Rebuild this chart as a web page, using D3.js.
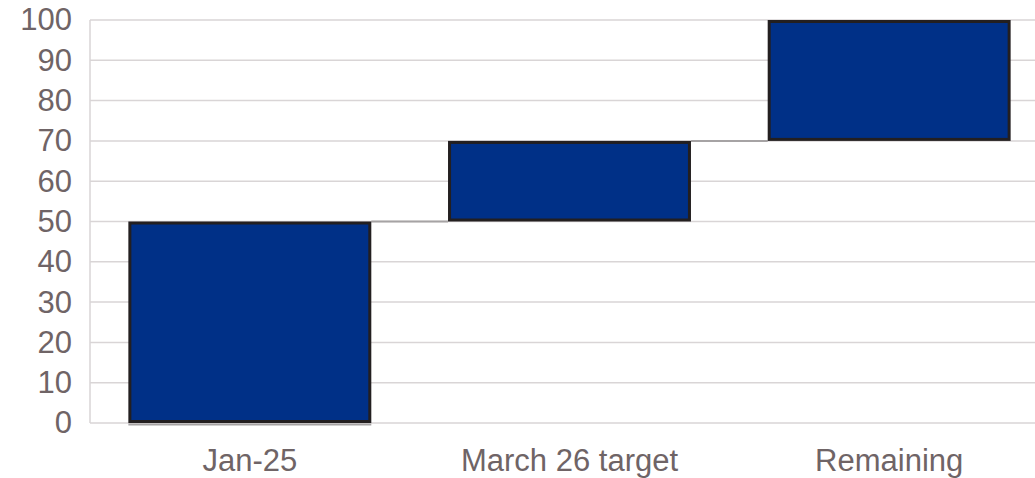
<!DOCTYPE html>
<html><head><meta charset="utf-8">
<script src="https://cdn.jsdelivr.net/npm/d3@7"></script>
<style>body{margin:0;background:#fff}svg{display:block}text{font-family:"Liberation Sans",Arial,sans-serif}</style>
</head><body><svg id="c" width="1035" height="478"></svg>
<script>
const categories = ["Jan-25", "March 26 target", "Remaining"];
const deltas = [50, 20, 30];
const yTicks = [0,10,20,30,40,50,60,70,80,90,100];

const svg = d3.select("#c");
const x = d3.scaleBand().domain(categories).range([90, 1049]).paddingInner(0.24).paddingOuter(0.12);
const y = d3.scaleLinear().domain([0, 100]).range([423, 20]);

let acc = 0;
const bars = categories.map((c, i) => { const s = acc; acc += deltas[i]; return {c, s, e: acc}; });

// gridlines
svg.append("g").selectAll("line").data(yTicks).join("line")
  .attr("x1", 90).attr("x2", 1035).attr("y1", d => y(d)).attr("y2", d => y(d))
  .attr("stroke", "#d9d5d6").attr("stroke-width", 1.5);
svg.append("line").attr("x1", 90).attr("x2", 90).attr("y1", y(100)).attr("y2", y(0))
  .attr("stroke", "#d9d5d6").attr("stroke-width", 1.5);

// y labels
const yAxis = d3.axisLeft(y).tickValues(yTicks).tickSize(0).tickPadding(18);
const ga = svg.append("g").attr("transform", "translate(90,0)").call(yAxis);
ga.select(".domain").remove();
ga.selectAll("text").attr("font-size", 31).attr("fill", "#6f6466").attr("font-family", "Liberation Sans, Arial, sans-serif");

// connectors
svg.append("g").selectAll("line").data(bars.slice(0, -1)).join("line")
  .attr("x1", d => x(d.c) + x.bandwidth()).attr("x2", (d, i) => x(categories[i + 1]))
  .attr("y1", d => y(d.e)).attr("y2", d => y(d.e))
  .attr("stroke", "#a6a3a4").attr("stroke-width", 2);
// base line under first bar
svg.append("line").attr("x1", x(categories[0])).attr("x2", x(categories[0]) + x.bandwidth())
  .attr("y1", y(0) + 1.5).attr("y2", y(0) + 1.5).attr("stroke", "#a6a3a4").attr("stroke-width", 2);

// bars
svg.append("g").selectAll("rect").data(bars).join("rect")
  .attr("x", d => x(d.c) + 1.5).attr("width", x.bandwidth() - 3)
  .attr("y", d => y(d.e) + 1.5).attr("height", d => y(d.s) - y(d.e) - 3)
  .attr("fill", "#003087").attr("stroke", "#231f20").attr("stroke-width", 3);

// x labels
svg.append("g").selectAll("text").data(categories).join("text")
  .attr("x", d => x(d) + x.bandwidth() / 2).attr("y", 471)
  .attr("text-anchor", "middle").attr("font-size", 31).attr("fill", "#6f6466")
  .text(d => d);
</script></body></html>
